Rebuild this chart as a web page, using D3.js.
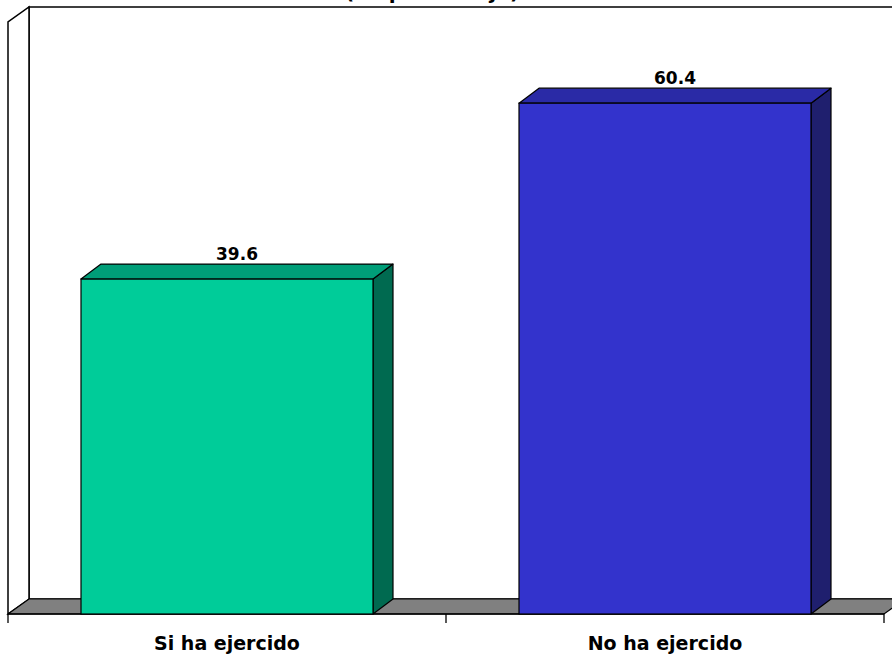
<!DOCTYPE html>
<html>
<head>
<meta charset="utf-8">
<script src="https://cdn.jsdelivr.net/npm/d3@7"></script>
<style>
  html, body { margin: 0; padding: 0; background: #fff; }
  svg { display: block; }
  text { font-family: "DejaVu Sans", Verdana, sans-serif; font-weight: bold; fill: #000; }
</style>
</head>
<body>
<svg id="chart" width="892" height="656"></svg>
<script>
const title = "(en porcentaje)";
const categories = ["Si ha ejercido", "No ha ejercido"];
const values = [39.6, 60.4];
const frontColors = ["#00CC99", "#3333CC"];
const topColors = ["#009E78", "#2A2AA6"];
const sideColors = ["#006A50", "#1F1F6E"];
const yMax = 70;

(function () {
const svg = d3.select("#chart");
const pLeft = 8, pRight = 884, pBottom = 614, pTop = 22;
const wallDx = 21, wallDy = -15;
const barDx = 20, barDy = -15;

const x = d3.scaleBand().domain(categories).range([pLeft, pRight])
  .paddingInner(1/3).paddingOuter(1/6);
const y = d3.scaleLinear().domain([0, yMax]).range([pBottom, pTop]);

const line = d3.line();
const stroke = "#000";

// back wall
svg.append("path")
  .attr("d", line([[pLeft + wallDx, y(yMax) + wallDy], [pRight + wallDx + 40, y(yMax) + wallDy],
                   [pRight + wallDx + 40, y(0) + wallDy], [pLeft + wallDx, y(0) + wallDy]]) + "Z")
  .attr("fill", "#fff").attr("stroke", stroke).attr("stroke-width", 1.5);
// left wall
svg.append("path")
  .attr("d", line([[pLeft, y(0)], [pLeft + wallDx, y(0) + wallDy], [pLeft + wallDx, y(yMax) + wallDy], [pLeft, y(yMax)]]) + "Z")
  .attr("fill", "#fff").attr("stroke", stroke).attr("stroke-width", 1.5);
// floor
svg.append("path")
  .attr("d", line([[pLeft, y(0)], [pLeft + wallDx, y(0) + wallDy], [pRight + wallDx, y(0) + wallDy], [pRight, y(0)]]) + "Z")
  .attr("fill", "#808080").attr("stroke", stroke).attr("stroke-width", 1.2);

// axis line + ticks at band boundaries
const boundaries = d3.range(categories.length + 1).map(i => pLeft + x.step() * i);
svg.append("line").attr("x1", pLeft).attr("x2", pRight).attr("y1", y(0)).attr("y2", y(0))
  .attr("stroke", stroke).attr("stroke-width", 1.5);
svg.selectAll(".tick").data(boundaries).enter().append("line")
  .attr("x1", d => d).attr("x2", d => d).attr("y1", y(0)).attr("y2", y(0) + 9)
  .attr("stroke", stroke).attr("stroke-width", 1.3);

// bars
const g = svg.selectAll(".bar").data(categories.map((c, i) => ({c, v: values[i], i}))).enter().append("g");
g.append("path") // side
  .attr("d", d => {
    const x1 = x(d.c) + x.bandwidth();
    return line([[x1, y(0)], [x1 + barDx, y(0) + barDy], [x1 + barDx, y(d.v) + barDy], [x1, y(d.v)]]) + "Z";
  })
  .attr("fill", d => sideColors[d.i]).attr("stroke", stroke).attr("stroke-width", 1.2).attr("stroke-linejoin", "round");
g.append("path") // top
  .attr("d", d => {
    const x0 = x(d.c), x1 = x0 + x.bandwidth(), yt = y(d.v);
    return line([[x0, yt], [x0 + barDx, yt + barDy], [x1 + barDx, yt + barDy], [x1, yt]]) + "Z";
  })
  .attr("fill", d => topColors[d.i]).attr("stroke", stroke).attr("stroke-width", 1.2).attr("stroke-linejoin", "round");
g.append("rect") // front
  .attr("x", d => x(d.c)).attr("y", d => y(d.v))
  .attr("width", x.bandwidth()).attr("height", d => y(0) - y(d.v))
  .attr("fill", d => frontColors[d.i]).attr("stroke", stroke).attr("stroke-width", 1.2);

// value labels
g.append("text")
  .attr("x", d => x(d.c) + x.bandwidth() / 2 + barDx / 2)
  .attr("y", d => y(d.v) + barDy - 4)
  .attr("text-anchor", "middle").attr("font-size", 17)
  .text(d => d.v.toFixed(1));

// category labels
svg.selectAll(".cat").data(categories).enter().append("text")
  .attr("x", d => x(d) + x.bandwidth() / 2)
  .attr("y", 650)
  .attr("text-anchor", "middle").attr("font-size", 19)
  .text(d => d);

// title (partly above the top edge, as in the reference)
svg.append("text").attr("x", 432).attr("y", -1.5)
  .attr("text-anchor", "middle").attr("font-size", 20)
  .text(title);
})();
</script>
</body>
</html>
